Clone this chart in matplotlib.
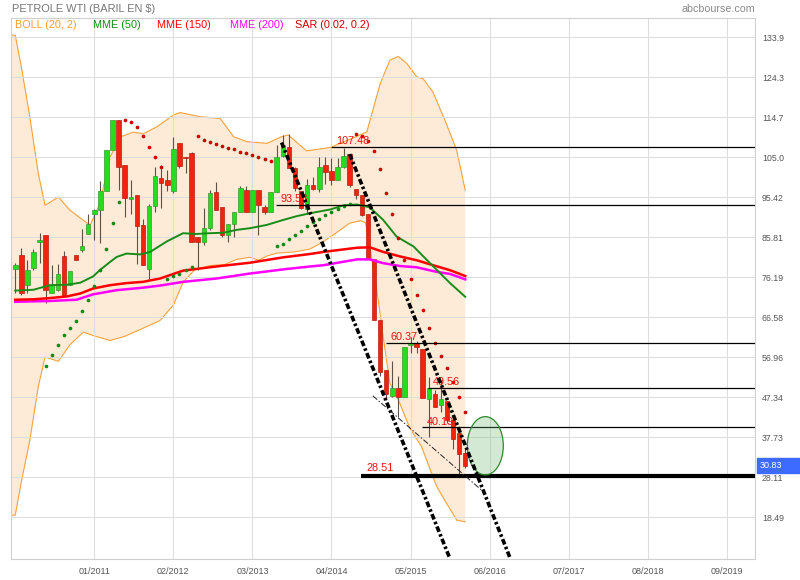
import matplotlib
matplotlib.use('Agg')
import matplotlib.pyplot as plt
from matplotlib.patches import Ellipse, Rectangle
import numpy as np

plt.rcParams['font.family'] = ['Liberation Sans', 'DejaVu Sans']

# mois comptés depuis 01/2011 ; premiere bougie = 12/2009
first_month = -13
opens = [78.3, 81.5, 74.4, 78.5, 84.7, 86.3, 72.5, 73.1, 81.2, 74.3, 81.5, 82.8, 86.7,
         91.3, 92.3, 96.9, 106.9, 113.9, 103.1, 95.0, 96.1, 88.7, 78.1, 93.3, 100.0,
         99.7, 97.0, 108.6, 105.2, 106.0, 86.0, 84.6, 88.0, 96.7, 93.2, 86.4, 89.0,
         91.8, 97.3, 91.8, 97.3, 93.0, 91.8, 96.6, 105.3, 107.6, 102.4, 97.0, 92.6,
         98.3, 97.5, 103.1, 101.8, 99.7, 102.7, 105.9, 97.5, 95.9, 91.3, 80.7, 66.0,
         53.9, 47.7, 49.5, 47.5, 59.8, 60.3, 58.9, 46.9, 48.1, 45.5, 46.5, 41.9, 38.7, 33.9]
highs = [79.6, 83.3, 80.3, 82.9, 86.9, 86.3, 79.1, 79.3, 82.4, 77.6, 81.5, 87.8, 91.5,
         92.7, 99.3, 106.7, 113.9, 113.9, 103.1, 99.5, 96.1, 90.3, 93.9, 102.7, 103.2,
         101.9, 110.0, 108.6, 105.2, 106.4, 86.0, 92.8, 97.3, 99.2, 93.2, 89.0, 91.8,
         98.1, 98.1, 97.3, 97.3, 93.5, 96.6, 108.0, 110.4, 110.6, 102.8, 97.0, 99.8,
         100.3, 105.1, 105.1, 104.8, 104.8, 107.4, 105.9, 97.5, 95.9, 91.5, 80.7, 66.0,
         53.9, 56.0, 52.5, 59.5, 61.9, 60.8, 58.9, 52.3, 49.2, 51.5, 46.5, 41.9, 38.7, 34.8]
lows = [72.5, 72.0, 72.4, 78.0, 79.6, 70.0, 72.3, 73.0, 71.6, 74.3, 80.4, 82.3, 86.7,
        85.2, 84.4, 96.9, 106.9, 97.1, 90.7, 91.5, 79.5, 79.2, 75.9, 91.9, 92.8,
        97.0, 96.5, 102.5, 101.2, 84.8, 77.9, 84.0, 87.5, 92.4, 85.8, 84.8, 85.8,
        91.8, 92.0, 91.8, 86.4, 91.5, 91.8, 96.6, 105.0, 102.4, 97.0, 92.5, 91.5,
        97.2, 96.7, 98.7, 98.5, 99.5, 102.5, 98.0, 95.0, 91.0, 80.7, 66.0, 52.5,
        46.7, 47.5, 42.7, 47.5, 57.9, 58.1, 47.1, 37.9, 45.0, 43.9, 41.1, 34.8, 28.6, 30.3]
closes = [79.1, 72.3, 77.9, 82.2, 85.1, 73.1, 74.4, 76.9, 71.6, 77.6, 80.4, 83.6, 88.9,
          92.3, 96.9, 106.7, 113.9, 102.6, 95.3, 95.5, 88.6, 79.2, 93.3, 100.5, 98.8,
          98.5, 107.0, 103.0, 104.8, 84.8, 84.8, 88.0, 96.4, 92.4, 86.4, 89.0, 91.8,
          97.6, 92.0, 97.3, 93.6, 92.0, 96.6, 105.0, 108.0, 102.4, 97.6, 92.8, 98.4,
          97.5, 102.7, 101.5, 99.5, 102.7, 105.3, 98.3, 95.9, 91.1, 80.7, 66.0, 53.5,
          48.1, 49.5, 47.5, 59.5, 60.3, 59.4, 47.1, 49.5, 45.1, 46.9, 41.9, 37.2, 33.7, 30.83]

# SAR (0.02, 0.2) : a partir de la 6e bougie, +1 = sous le prix, -1 = au-dessus
sar_first = 5
sar_values = [54.9, 57.5, 60.0, 62.3, 64.0, 65.8, 68.2, 70.8, 74.0, 78.0, 83.1, 89.3, 94.4,
              114.1, 113.5, 112.3, 110.2, 107.5, 105.0, 102.8,
              75.8, 76.6, 77.1, 77.9, 78.6,
              110.2, 109.2, 108.8, 108.2, 107.8, 107.4, 107.0, 106.4, 106.0, 105.6, 105.2, 104.6, 104.2,
              83.8, 84.2, 85.5, 86.4, 87.4, 88.5, 89.5, 90.3, 91.1, 91.9, 92.7, 93.3, 93.9,
              110.7, 110.2, 109.0, 106.6, 102.3, 96.5, 91.4, 85.6, 80.3, 75.9, 71.9, 68.3,
              64.1, 60.5, 57.3, 54.4, 50.9, 47.3, 43.9]
sar_side = [1] * 13 + [-1] * 7 + [1] * 5 + [-1] * 13 + [1] * 13 + [-1] * 19

# Bollinger (20, 2)
boll_up_x = [-13.7, -13.0, -12.0, -10.6, -9.2, -8.1, -5.9, -4.0, -1.8, -0.7, 0.9, 2.6, 4.2,
             6.4, 8.1, 10.3, 13.0, 14.1, 17.4, 20.7, 22.9, 25.1, 28.4, 30.8, 31.9, 34.9,
             38.8, 40.9, 44.8, 47.0, 48.6, 50.0, 51.4, 53.0, 54.1, 55.7, 57.9, 59.6, 61.0]
boll_up = [134.4, 134.4, 126.8, 114.7, 101.1, 93.5, 95.5, 92.3, 89.9, 88.7, 93.9, 105.1, 109.9,
           111.1, 110.7, 112.4, 115.2, 115.8, 114.8, 114.4, 110.0, 108.8, 108.4, 110.0, 110.4, 106.6,
           107.4, 108.7, 111.1, 122.7, 128.4, 129.3, 127.6, 124.4, 123.9, 120.7, 113.1, 106.7, 97.1]
boll_lo_x = [-13.7, -13.0, -12.0, -10.6, -9.2, -8.1, -5.9, -4.0, -1.8, -0.2, 2.6, 5.0, 8.1,
             10.8, 13.0, 14.6, 16.5, 19.0, 21.5, 23.4, 25.6, 27.0, 28.4, 30.0, 33.0, 35.5,
             37.5, 39.3, 42.0, 43.8, 44.6, 45.3, 46.0, 46.7, 47.5, 48.6, 50.0, 51.9, 53.8,
             56.3, 57.9, 59.6, 61.0]
boll_lo = [19.0, 19.0, 27.0, 37.0, 50.0, 57.0, 56.0, 60.0, 63.0, 62.2, 61.0, 62.0, 64.0,
           65.8, 69.5, 75.0, 78.0, 79.0, 79.3, 80.5, 81.0, 80.3, 81.3, 82.0, 82.3, 83.0,
           84.6, 86.4, 89.2, 89.8, 89.3, 84.0, 77.0, 70.7, 61.9, 50.7, 46.7, 39.9, 35.5,
           25.9, 21.9, 17.8, 17.4]

# moyennes mobiles exponentielles
mme50_x = [-13.0, -10.0, -7.3, -4.5, -2.3, -0.2, 0.9, 2.6, 3.7, 5.3, 7.5, 9.2, 11.9, 14.6,
           16.6, 19.0, 21.2, 23.4, 25.6, 28.4, 31.1, 33.3, 35.5, 38.8, 41.0, 43.2, 45.3,
           47.5, 49.7, 52.5, 55.2, 58.5, 61.0]
mme50 = [73.0, 73.2, 74.3, 74.4, 74.9, 76.4, 77.9, 79.9, 81.1, 81.9, 81.7, 82.3, 84.8, 86.8,
         86.6, 86.8, 86.9, 87.6, 88.0, 88.8, 90.0, 90.9, 91.6, 92.5, 93.5, 93.7, 93.0,
         90.0, 86.0, 83.6, 79.6, 74.8, 71.5]
mme150_x = [-13.0, -10.0, -7.3, -4.5, -2.3, -0.2, 2.6, 5.3, 8.0, 10.8, 14.6, 20.1, 25.6,
            31.1, 35.5, 37.7, 43.2, 45.3, 47.5, 50.3, 53.0, 55.7, 58.5, 61.0]
mme150 = [70.8, 70.9, 71.2, 71.6, 72.3, 73.5, 74.3, 74.8, 75.1, 75.9, 77.8, 78.8, 79.7,
          81.0, 81.8, 82.3, 83.3, 83.4, 82.3, 81.2, 80.3, 79.1, 77.9, 76.5]
mme200_x = [-13.0, -7.3, -2.9, -0.2, 3.7, 8.0, 10.8, 14.6, 20.1, 25.6, 31.1, 35.5, 37.7,
            43.2, 45.3, 47.5, 50.3, 53.0, 56.3, 58.5, 61.0]
mme200 = [70.3, 70.5, 70.8, 72.1, 73.1, 73.7, 74.2, 75.1, 75.9, 77.1, 78.1, 78.8, 79.1,
          80.5, 80.5, 79.6, 78.9, 78.6, 77.5, 77.0, 75.7]

# niveaux traces (valeur, debut en mois, epaisseur)
levels = [107.48, 93.53, 60.37, 49.56, 40.19, 28.51]
level_start = [38.9, 29.9, 48.0, 54.8, 53.9, 43.9]
level_label_pos = [(39.75, 108.97), (30.65, 94.95), (48.74, 61.77), (55.7, 51.1), (54.71, 41.5), (44.68, 30.27)]

# droites de tendance (x0, y0, x1, y1)
trend_a = (30.8, 108.6, 58.5, 8.5)
trend_b = (42.0, 105.8, 68.4, 8.6)
trend_c = (45.8, 47.7, 64.25, 24.3)

ytick_vals = [133.9, 124.3, 114.7, 105.0, 95.42, 85.81, 76.19, 66.58, 56.96, 47.34, 37.73, 28.11, 18.49]
ytick_labels = ['133.9', '124.3', '114.7', '105.0', '95.42', '85.81', '76.19', '66.58',
                '56.96', '47.34', '37.73', '28.11', '18.49']
xtick_vals = [0, 13, 26, 39, 52, 65, 78, 91, 104]
xtick_labels = ['01/2011', '02/2012', '03/2013', '04/2014', '05/2015', '06/2016',
                '07/2017', '08/2018', '09/2019']
last_price = 30.83

fig = plt.figure(figsize=(8, 5.8), dpi=100)
ax = fig.add_axes([11 / 800, 21 / 580, 744 / 800, 541 / 580])
ax.set_xlim(-13.7, 108.65)
ax.set_ylim(8.46, 138.54)

# bandes de Bollinger
poly_x = boll_up_x + boll_lo_x[::-1]
poly_y = boll_up + boll_lo[::-1]
ax.fill(poly_x, poly_y, color='#fdebd7', lw=0, zorder=0.3)
ax.plot(boll_up_x, boll_up, color='#f7a23c', lw=0.8, zorder=0.4)
ax.plot(boll_lo_x, boll_lo, color='#f7a23c', lw=0.8, zorder=0.4)

# bougies
o = np.array(opens); h = np.array(highs); l = np.array(lows); c = np.array(closes)
x = np.arange(len(o)) + first_month
up = c >= o
ax.vlines(x, l, h, color='#5c5248', lw=0.8, zorder=2)
body = np.maximum(np.abs(c - o), 0.35)
ax.bar(x[up], body[up], bottom=np.minimum(o, c)[up], width=0.74, color='#25dd1c',
       edgecolor='#3a9a30', lw=0.5, zorder=3)
ax.bar(x[~up], body[~up], bottom=np.minimum(o, c)[~up], width=0.74, color='#f0230f',
       edgecolor='#b52010', lw=0.5, zorder=3)

# moyennes mobiles
ax.plot(mme200_x, mme200, color='#ff00ff', lw=1.8, zorder=4)
ax.plot(mme150_x, mme150, color='#ff0000', lw=1.8, zorder=4)
ax.plot(mme50_x, mme50, color='#188c18', lw=1.4, zorder=4)

# SAR
sx = np.arange(len(sar_values)) + first_month + sar_first
sv = np.array(sar_values); side = np.array(sar_side)
ax.scatter(sx[side > 0], sv[side > 0], s=7, color='#138a13', lw=0, zorder=5)
ax.scatter(sx[side < 0], sv[side < 0], s=7, color='#d00000', lw=0, zorder=5)

# niveaux horizontaux
for val, x0, (tx, ty) in zip(levels, level_start, level_label_pos):
    lw = 3.0 if val == 28.51 else 0.9
    ax.plot([x0, 108.65], [val, val], color='black', lw=lw, zorder=6, solid_capstyle='butt')
    ax.text(tx, ty, f'{val:.2f}', color='#ee1111', fontsize=7.8, va='center', ha='left', zorder=7)

# tendances
for (x0, y0, x1, y1) in (trend_a, trend_b):
    ax.plot([x0, x1], [y0, y1], color='black', lw=2.6, ls=(0, (1.6, 0.7, 0.7, 0.7)), zorder=8)
ax.plot([trend_c[0], trend_c[2]], [trend_c[1], trend_c[3]], color='#222222', lw=0.7,
        ls=(0, (6, 2, 1.5, 2)), zorder=8)

ax.add_patch(Ellipse((64.3, 35.68), 5.92, 14.02, facecolor=(0.45, 0.72, 0.45, 0.3),
                     edgecolor='#2f8a2f', lw=0.9, zorder=7))

# axes
ax.set_xticks(xtick_vals)
ax.set_xticklabels(xtick_labels)
ax.set_yticks(ytick_vals)
ax.set_yticklabels(ytick_labels)
ax.yaxis.tick_right()
ax.tick_params(axis='y', length=0, pad=5, labelsize=6.3, labelcolor='#555555')
ax.tick_params(axis='x', length=0, pad=6, labelsize=6.5, labelcolor='#555555')
ax.set_axisbelow(True)
ax.grid(True, color='#dddddd', lw=0.75)
for sp in ax.spines.values():
    sp.set_color('#d0d0d0')
    sp.set_linewidth(0.8)

# titres et legende
fig.text(12 / 800, 1 - 9.5 / 580, 'PETROLE WTI (BARIL EN $)', color='#777777', fontsize=7.9,
         va='center', ha='left')
fig.text(755 / 800, 1 - 9.5 / 580, 'abcbourse.com', color='#888888', fontsize=7.7,
         va='center', ha='right')
legend = [('BOLL (20, 2)', '#f5a033', 15), ('MME (50)', '#128a12', 93.3),
          ('MME (150)', '#ff0000', 156.7), ('MME (200)', '#ff00ff', 230),
          ('SAR (0.02, 0.2)', '#cc0000', 295)]
for txt, col, px in legend:
    fig.text(px / 800, 1 - 25 / 580, txt, color=col, fontsize=7.8, va='center', ha='left')

# dernier cours
y_last = ax.transData.transform((0, last_price))[1]
fig.patches.append(Rectangle((757 / 800, (y_last - 7.5) / 580), 43 / 800, 15 / 580,
                             transform=fig.transFigure, color='#3d6bff', zorder=5))
fig.text(760 / 800, y_last / 580, f'{last_price:.2f}', color='white', fontsize=6.5,
         va='center', ha='left', zorder=6)

fig.savefig('out.png', dpi=100)
